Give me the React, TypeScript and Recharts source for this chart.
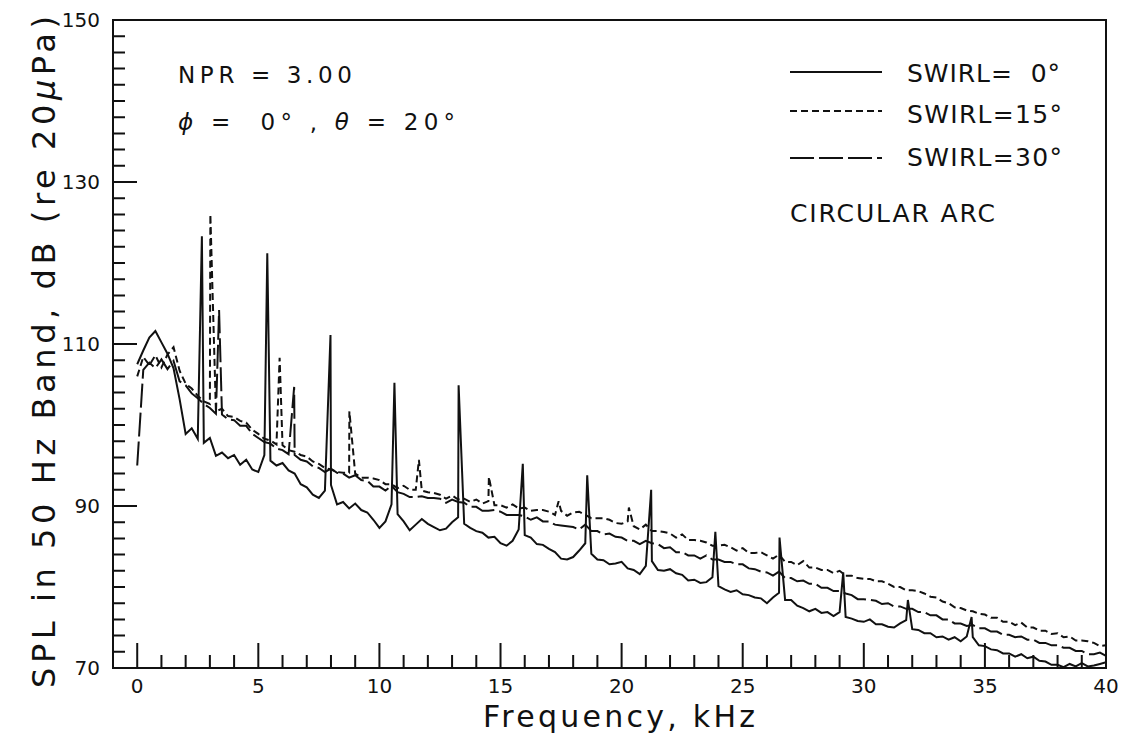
import React from 'react'
import { LineChart, Line, XAxis, YAxis, ReferenceArea } from 'recharts'

// frequency grid, kHz
const freq = [
  0, 0.25, 0.5, 0.75, 1, 1.25, 1.5, 1.75, 2, 2.25, 2.5, 2.75, 3, 3.25, 3.5, 3.75,
  4, 4.25, 4.5, 4.75, 5, 5.25, 5.5, 5.75, 6, 6.25, 6.5, 6.75, 7, 7.25, 7.5, 7.75,
  8, 8.25, 8.5, 8.75, 9, 9.25, 9.5, 9.75, 10, 10.25, 10.5, 10.75, 11, 11.25, 11.5, 11.75,
  12, 12.25, 12.5, 12.75, 13, 13.25, 13.5, 13.75, 14, 14.25, 14.5, 14.75, 15, 15.25, 15.5, 15.75,
  16, 16.25, 16.5, 16.75, 17, 17.25, 17.5, 17.75, 18, 18.25, 18.5, 18.75, 19, 19.25, 19.5, 19.75,
  20, 20.25, 20.5, 20.75, 21, 21.25, 21.5, 21.75, 22, 22.25, 22.5, 22.75, 23, 23.25, 23.5, 23.75,
  24, 24.25, 24.5, 24.75, 25, 25.25, 25.5, 25.75, 26, 26.25, 26.5, 26.75, 27, 27.25, 27.5, 27.75,
  28, 28.25, 28.5, 28.75, 29, 29.25, 29.5, 29.75, 30, 30.25, 30.5, 30.75, 31, 31.25, 31.5, 31.75,
  32, 32.25, 32.5, 32.75, 33, 33.25, 33.5, 33.75, 34, 34.25, 34.5, 34.75, 35, 35.25, 35.5, 35.75,
  36, 36.25, 36.5, 36.75, 37, 37.25, 37.5, 37.75, 38, 38.25, 38.5, 38.75, 39, 39.25, 39.5, 39.75,
  40,
]

// SWIRL = 0 deg (solid)
const swirl0 = [
  107.5, 109.2, 110.8, 111.6, 110.2, 108.8, 107.0, 103.2, 98.9, 99.6, 98.3, 97.8, 98.4, 96.2, 96.6, 95.9,
  96.3, 95.1, 95.7, 94.5, 94.2, 96.3, 95.6, 95.0, 95.3, 94.4, 94.0, 92.7, 92.3, 91.4, 91.0, 91.9,
  92.6, 90.2, 90.5, 89.7, 90.3, 89.5, 89.2, 88.3, 87.3, 88.1, 90.2, 89.0, 88.1, 87.0, 87.7, 88.4,
  87.8, 87.4, 87.0, 87.2, 88.0, 88.6, 87.8, 87.3, 86.9, 86.7, 86.1, 86.2, 85.4, 85.1, 85.7, 87.1,
  86.4, 86.1, 85.3, 85.2, 84.7, 84.3, 83.5, 83.4, 83.7, 84.5, 85.4, 84.1, 83.4, 83.3, 82.8, 82.9,
  83.1, 82.3, 82.1, 81.6, 82.6, 83.2, 82.1, 82.0, 82.2, 81.7, 81.5, 80.8, 80.9, 80.5, 80.6, 81.2,
  80.1, 79.7, 79.4, 79.6, 79.1, 79.0, 78.7, 78.6, 78.0, 78.7, 79.3, 78.4, 78.4, 77.7, 77.4, 77.0,
  77.3, 76.8, 76.9, 76.4, 76.9, 76.3, 76.1, 75.8, 75.7, 76.0, 75.4, 75.4, 75.1, 75.0, 75.5, 75.9,
  74.8, 74.7, 74.3, 74.3, 73.8, 73.9, 73.5, 73.8, 73.3, 73.9, 73.8, 72.8, 72.7, 72.3, 72.2, 71.8,
  71.8, 71.4, 71.7, 71.2, 71.4, 70.9, 70.8, 70.4, 70.4, 70.1, 70.5, 70.2, 70.6, 70.2, 70.3, 70.5,
  70.7,
]

// SWIRL = 15 deg (short dash)
const swirl15 = [
  106.0, 108.4, 107.4, 108.6, 107.1, 108.7, 109.6, 106.7, 105.1, 104.5, 103.6, 102.9, 102.6, 101.7, 102.0, 101.1,
  101.0, 100.5, 100.3, 99.4, 98.9, 98.3, 98.1, 97.6, 97.5, 96.9, 96.7, 96.3, 96.1, 95.5, 95.2, 94.7,
  94.5, 94.2, 94.1, 94.1, 94.0, 93.5, 93.5, 93.4, 93.2, 92.7, 92.7, 92.2, 92.5, 92.0, 92.0, 91.9,
  91.7, 91.6, 91.4, 90.9, 91.3, 90.8, 90.9, 90.5, 90.8, 90.3, 90.6, 90.1, 90.1, 89.8, 90.2, 89.7,
  89.8, 89.4, 89.5, 89.5, 89.3, 88.9, 89.4, 88.8, 89.2, 89.3, 88.9, 88.5, 88.5, 88.5, 88.3, 87.9,
  87.8, 88.1, 87.5, 87.1, 87.7, 86.9, 86.9, 86.8, 86.6, 86.1, 86.5, 85.8, 85.8, 85.7, 85.5, 85.1,
  85.1, 85.2, 84.9, 84.5, 84.8, 84.2, 84.2, 84.3, 83.9, 83.5, 84.0, 83.1, 83.1, 82.7, 83.2, 82.4,
  82.4, 82.1, 82.1, 81.7, 82.0, 81.4, 81.4, 81.1, 81.0, 81.0, 80.7, 80.7, 80.4, 80.0, 80.0, 79.6,
  79.6, 79.5, 79.2, 78.8, 78.7, 78.2, 78.0, 77.5, 77.4, 77.1, 77.0, 76.7, 76.6, 76.2, 76.2, 75.7,
  75.7, 75.3, 75.6, 75.0, 75.0, 74.6, 74.6, 74.2, 74.3, 73.8, 73.9, 73.4, 73.4, 73.3, 73.1, 72.7,
  72.8,
]

// SWIRL = 30 deg (long dash)
const swirl30 = [
  95.0, 106.8, 107.7, 107.0, 108.1, 106.9, 107.9, 105.4, 104.9, 103.9, 103.3, 102.6, 102.1, 101.4, 101.3, 100.7,
  100.6, 99.9, 99.9, 98.9, 98.4, 97.9, 97.7, 97.1, 96.9, 96.4, 96.3, 95.7, 95.5, 94.9, 94.7, 94.2,
  94.6, 94.1, 94.0, 93.5, 93.8, 93.2, 93.1, 92.4, 92.4, 91.9, 92.5, 91.7, 91.5, 91.1, 91.1, 91.2,
  91.0, 91.0, 90.9, 90.4, 90.8, 90.5, 90.4, 89.9, 89.9, 89.4, 89.4, 89.5, 89.3, 88.9, 88.9, 88.9,
  88.7, 88.3, 88.6, 88.1, 88.1, 87.7, 87.6, 87.5, 87.4, 87.1, 87.7, 86.9, 86.9, 86.5, 86.6, 86.2,
  86.1, 85.7, 85.7, 85.3, 85.7, 85.4, 85.3, 84.8, 84.9, 84.3, 84.3, 83.9, 83.9, 83.5, 83.9, 83.4,
  83.4, 83.1, 83.1, 82.8, 82.8, 82.3, 82.2, 81.9, 81.8, 81.4, 81.9, 81.1, 81.1, 80.7, 80.8, 80.4,
  80.4, 79.9, 79.9, 79.5, 79.5, 79.2, 79.0, 78.5, 78.5, 78.4, 78.3, 77.9, 78.0, 77.6, 77.6, 77.3,
  77.3, 76.9, 76.9, 76.5, 76.5, 76.0, 76.0, 75.5, 75.5, 75.2, 75.3, 74.9, 74.9, 74.5, 74.5, 74.1,
  74.1, 73.8, 73.9, 73.5, 73.5, 73.1, 73.1, 72.8, 72.8, 72.5, 72.5, 72.1, 72.1, 71.7, 71.7, 71.9,
  71.5,
]

// tones [kHz, dB]
const tones0 = [
  [2.67, 123.3], [5.37, 121.2], [7.98, 111.1], [10.62, 105.2], [13.27, 104.9], [15.92, 95.2], [18.58, 93.8],
  [21.22, 92.0], [23.87, 86.8], [26.52, 86.1], [29.15, 81.8], [31.82, 78.4], [34.45, 76.3],
]
const tones15 = [
  [3.02, 126.0], [5.88, 108.3], [8.76, 101.7], [11.63, 95.7], [14.52, 93.6], [17.4, 90.6], [20.3, 89.8],
]
const tones30 = [
  [3.38, 114.2], [6.48, 104.7],
]

const xTicks = [
  0, 1, 2, 3, 4, 5, 6, 7, 8, 9, 10, 11, 12, 13, 14, 15, 16, 17, 18, 19, 20,
  21, 22, 23, 24, 25, 26, 27, 28, 29, 30, 31, 32, 33, 34, 35, 36, 37, 38, 39, 40,
]
const yTicks = [
  70, 72, 74, 76, 78, 80, 82, 84, 86, 88, 90, 92, 94, 96, 98, 100, 102, 104, 106, 108, 110,
  112, 114, 116, 118, 120, 122, 124, 126, 128, 130, 132, 134, 136, 138, 140, 142, 144, 146, 148, 150,
]

const X_MIN = -1
const X_MAX = 40
const Y_MIN = 70
const Y_MAX = 150
const FONT = 'DejaVu Sans'
const INK = '#111'

// plot box (matches chart margins and axis sizes below)
const W = 1124
const H = 735
const LEFT = 113
const TOP = 20
const RIGHT = W - 18
const BOTTOM = H - 67
const px = (f: number) => LEFT + ((f - X_MIN) / (X_MAX - X_MIN)) * (RIGHT - LEFT)
const py = (v: number) => BOTTOM - ((v - Y_MIN) / (Y_MAX - Y_MIN)) * (BOTTOM - TOP)

// inward tick marks as one path
const tickPath =
  xTicks.map((t) => `M${px(t)} ${BOTTOM}V${BOTTOM - (t % 5 === 0 ? 25 : 13)}`).join('') +
  yTicks.map((t) => `M${LEFT} ${py(t)}H${LEFT + (t % 20 === 10 ? 24 : 12)}`).join('')

function build(base: number[], tones: number[][]) {
  const pts = base.map((v, i) => ({ f: freq[i], v }))
  tones.forEach(([f, v]) => pts.push({ f, v }))
  return pts.sort((a, b) => a.f - b.f)
}

const data0 = build(swirl0, tones0)
const data15 = build(swirl15, tones15)
const data30 = build(swirl30, tones30)

const renderXTick = (props: any) => {
  const { x, y, payload } = props
  const v = payload.value
  if (v % 5 !== 0) return <g />
  return (
    <text x={x} y={y + 25} textAnchor="middle" fontSize={20} fontFamily={FONT} fill={INK}>
      {v}
    </text>
  )
}

const renderYTick = (props: any) => {
  const { x, y, payload } = props
  const v = payload.value
  if (v % 20 !== 10) return <g />
  return (
    <text x={x - 13} y={y + 7} textAnchor="end" fontSize={20} fontFamily={FONT} fill={INK}>
      {v}
    </text>
  )
}

export default function App() {
  return (
    <div style={{ position: 'absolute', left: 0, top: 0, width: W, height: H, background: '#fff' }}>
      <LineChart width={W} height={H} margin={{ top: TOP, right: W - RIGHT, bottom: 0, left: 0 }}>
        <XAxis
          dataKey="f"
          type="number"
          domain={[X_MIN, X_MAX]}
          ticks={xTicks}
          interval={0}
          allowDataOverflow
          height={H - BOTTOM}
          axisLine={false}
          tickLine={false}
          tickSize={0}
          tickMargin={0}
          tick={renderXTick}
        />
        <YAxis
          type="number"
          domain={[Y_MIN, Y_MAX]}
          ticks={yTicks}
          interval={0}
          allowDataOverflow
          width={LEFT}
          axisLine={false}
          tickLine={false}
          tickSize={0}
          tickMargin={0}
          tick={renderYTick}
        />
        <Line data={data0} dataKey="v" type="linear" stroke={INK} strokeWidth={2} dot={false} isAnimationActive={false} />
        <Line data={data15} dataKey="v" type="linear" stroke={INK} strokeWidth={2} strokeDasharray="7 4" dot={false} isAnimationActive={false} />
        <Line data={data30} dataKey="v" type="linear" stroke={INK} strokeWidth={2} strokeDasharray="24 5" dot={false} isAnimationActive={false} />
        <ReferenceArea x1={X_MIN} x2={X_MAX} y1={Y_MIN} y2={Y_MAX} fill="none" stroke={INK} strokeWidth={2} />
      </LineChart>
      <svg
        width={W}
        height={H}
        style={{ position: 'absolute', left: 0, top: 0, pointerEvents: 'none' }}
        fontFamily={FONT}
        fill={INK}
      >
        <path d={tickPath} stroke={INK} strokeWidth={2} fill="none" />
        <text transform="translate(55,352) rotate(-90)" textAnchor="middle" fontSize={32} textLength={672} lengthAdjust="spacing">
          SPL in 50 Hz Band, dB (re 20<tspan fontStyle="italic">μ</tspan>Pa)
        </text>
        <text x={619} y={727} textAnchor="middle" fontSize={30} textLength={272} lengthAdjust="spacing">
          Frequency, kHz
        </text>
        <text x={178} y={83} fontSize={23} textLength={174} lengthAdjust="spacing">
          NPR = 3.00
        </text>
        <text x={178} y={130} fontSize={23} textLength={277} lengthAdjust="spacing" xmlSpace="preserve">
          <tspan fontStyle="italic">ϕ</tspan> =  0° , <tspan fontStyle="italic">θ</tspan> = 20°
        </text>
        <line x1={790} x2={882} y1={72} y2={72} stroke={INK} strokeWidth={2} />
        <line x1={790} x2={882} y1={111} y2={111} stroke={INK} strokeWidth={2} strokeDasharray="7 4" />
        <line x1={790} x2={882} y1={158} y2={158} stroke={INK} strokeWidth={2} strokeDasharray="24 5" />
        <text x={907} y={82} fontSize={25} textLength={153} lengthAdjust="spacing" xmlSpace="preserve">
          SWIRL=  0°
        </text>
        <text x={907} y={123} fontSize={25} textLength={155} lengthAdjust="spacing">
          SWIRL=15°
        </text>
        <text x={907} y={166} fontSize={25} textLength={155} lengthAdjust="spacing">
          SWIRL=30°
        </text>
        <text x={790} y={222} fontSize={25} textLength={205} lengthAdjust="spacing">
          CIRCULAR ARC
        </text>
      </svg>
    </div>
  )
}
